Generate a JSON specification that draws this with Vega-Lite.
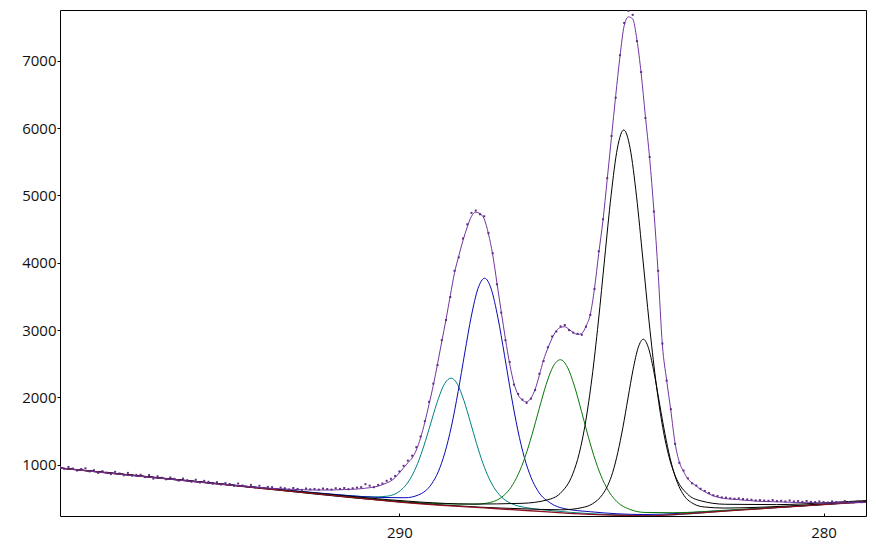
{
"$schema":"https://vega.github.io/schema/vega-lite/v6.json",
"width":806,"height":506,
"autosize":{"type":"none"},
"padding":{"left":60,"top":10,"right":10,"bottom":34},
"background":"white",
"config":{"view":{"stroke":"#000","strokeWidth":1},"axis":{"grid":false,"domain":false,"labelFont":"Open Sans","labelFontSize":15,"labelColor":"#111","tickColor":"#000","title":null}},
"datasets":{
"comp":[
{"s":"teal","x":298,"y":952},{"s":"teal","x":294,"y":702},{"s":"teal","x":292,"y":584},{"s":"teal","x":291.18,"y":541},{"s":"teal","x":290.58,"y":523},{"s":"teal","x":290.28,"y":535},{"s":"teal","x":289.98,"y":615},{"s":"teal","x":289.83,"y":712},{"s":"teal","x":289.68,"y":865},{"s":"teal","x":289.53,"y":1084},{"s":"teal","x":289.38,"y":1365},{"s":"teal","x":289.23,"y":1680},{"s":"teal","x":289.08,"y":1984},{"s":"teal","x":288.93,"y":2208},{"s":"teal","x":288.78,"y":2287},{"s":"teal","x":288.63,"y":2194},{"s":"teal","x":288.48,"y":1957},{"s":"teal","x":288.33,"y":1642},{"s":"teal","x":288.18,"y":1314},{"s":"teal","x":288.03,"y":1022},{"s":"teal","x":287.88,"y":791},{"s":"teal","x":287.73,"y":625},{"s":"teal","x":287.58,"y":514},{"s":"teal","x":287.28,"y":404},{"s":"teal","x":286.98,"y":362},{"s":"teal","x":286.38,"y":317},{"s":"teal","x":285.5,"y":275},{"s":"teal","x":284,"y":249},{"s":"teal","x":282,"y":329},{"s":"teal","x":279,"y":452},
{"s":"blue","x":298,"y":953},{"s":"blue","x":294,"y":704},{"s":"blue","x":292,"y":587},{"s":"blue","x":291.74,"y":573},{"s":"blue","x":290.49,"y":516},{"s":"blue","x":289.865,"y":511},{"s":"blue","x":289.553,"y":552},{"s":"blue","x":289.24,"y":716},{"s":"blue","x":289.084,"y":896},{"s":"blue","x":288.928,"y":1178},{"s":"blue","x":288.771,"y":1577},{"s":"blue","x":288.615,"y":2086},{"s":"blue","x":288.459,"y":2659},{"s":"blue","x":288.303,"y":3209},{"s":"blue","x":288.146,"y":3618},{"s":"blue","x":287.99,"y":3770},{"s":"blue","x":287.834,"y":3608},{"s":"blue","x":287.678,"y":3188},{"s":"blue","x":287.521,"y":2625},{"s":"blue","x":287.365,"y":2040},{"s":"blue","x":287.209,"y":1519},{"s":"blue","x":287.053,"y":1107},{"s":"blue","x":286.896,"y":812},{"s":"blue","x":286.74,"y":618},{"s":"blue","x":286.428,"y":428},{"s":"blue","x":286.115,"y":350},{"s":"blue","x":285.49,"y":303},{"s":"blue","x":284.24,"y":262},{"s":"blue","x":282.5,"y":314},{"s":"blue","x":279,"y":453},
{"s":"green","x":298,"y":952},{"s":"green","x":294,"y":700},{"s":"green","x":291,"y":517},{"s":"green","x":290.195,"y":469},{"s":"green","x":288.865,"y":420},{"s":"green","x":288.2,"y":416},{"s":"green","x":287.868,"y":440},{"s":"green","x":287.535,"y":546},{"s":"green","x":287.369,"y":665},{"s":"green","x":287.203,"y":852},{"s":"green","x":287.036,"y":1117},{"s":"green","x":286.87,"y":1454},{"s":"green","x":286.704,"y":1833},{"s":"green","x":286.538,"y":2196},{"s":"green","x":286.371,"y":2465},{"s":"green","x":286.205,"y":2560},{"s":"green","x":286.039,"y":2450},{"s":"green","x":285.873,"y":2168},{"s":"green","x":285.706,"y":1792},{"s":"green","x":285.54,"y":1402},{"s":"green","x":285.374,"y":1054},{"s":"green","x":285.208,"y":780},{"s":"green","x":285.041,"y":583},{"s":"green","x":284.875,"y":455},{"s":"green","x":284.543,"y":333},{"s":"green","x":284.21,"y":293},{"s":"green","x":283.545,"y":289},{"s":"green","x":282.215,"y":329},{"s":"green","x":279,"y":454},
{"s":"k1","x":298,"y":954},{"s":"k1","x":294,"y":704},{"s":"k1","x":291,"y":523},{"s":"k1","x":289.51,"y":447},{"s":"k1","x":288.31,"y":417},{"s":"k1","x":287.11,"y":428},{"s":"k1","x":286.51,"y":480},{"s":"k1","x":286.21,"y":575},{"s":"k1","x":285.91,"y":868},{"s":"k1","x":285.76,"y":1170},{"s":"k1","x":285.61,"y":1638},{"s":"k1","x":285.46,"y":2289},{"s":"k1","x":285.31,"y":3121},{"s":"k1","x":285.16,"y":4068},{"s":"k1","x":285.01,"y":4995},{"s":"k1","x":284.86,"y":5702},{"s":"k1","x":284.71,"y":5971},{"s":"k1","x":284.56,"y":5698},{"s":"k1","x":284.41,"y":4988},{"s":"k1","x":284.26,"y":4056},{"s":"k1","x":284.11,"y":3105},{"s":"k1","x":283.96,"y":2272},{"s":"k1","x":283.81,"y":1622},{"s":"k1","x":283.66,"y":1159},{"s":"k1","x":283.51,"y":857},{"s":"k1","x":283.21,"y":566},{"s":"k1","x":282.91,"y":468},{"s":"k1","x":282.31,"y":414},{"s":"k1","x":281.11,"y":409},{"s":"k1","x":279.91,"y":438},{"s":"k1","x":279,"y":469},
{"s":"k2","x":298,"y":951},{"s":"k2","x":294,"y":699},{"s":"k2","x":290,"y":450},{"s":"k2","x":288.09,"y":371},{"s":"k2","x":287.13,"y":348},{"s":"k2","x":286.17,"y":332},{"s":"k2","x":285.69,"y":365},{"s":"k2","x":285.45,"y":420},{"s":"k2","x":285.21,"y":560},{"s":"k2","x":285.09,"y":690},{"s":"k2","x":284.97,"y":890},{"s":"k2","x":284.85,"y":1185},{"s":"k2","x":284.73,"y":1558},{"s":"k2","x":284.61,"y":1992},{"s":"k2","x":284.49,"y":2416},{"s":"k2","x":284.37,"y":2740},{"s":"k2","x":284.25,"y":2864},{"s":"k2","x":284.13,"y":2739},{"s":"k2","x":284.01,"y":2414},{"s":"k2","x":283.89,"y":1993},{"s":"k2","x":283.77,"y":1563},{"s":"k2","x":283.65,"y":1186},{"s":"k2","x":283.53,"y":890},{"s":"k2","x":283.41,"y":681},{"s":"k2","x":283.29,"y":545},{"s":"k2","x":283.05,"y":416},{"s":"k2","x":282.81,"y":374},{"s":"k2","x":282.33,"y":358},{"s":"k2","x":281.37,"y":373},{"s":"k2","x":280.41,"y":404},{"s":"k2","x":279,"y":456}
],
"bg":[
{"x":298,"y":950},{"x":296,"y":824},{"x":294,"y":697},{"x":292,"y":571},{"x":290,"y":445},{"x":289.5,"y":420},{"x":289,"y":398},{"x":288.5,"y":378},{"x":288,"y":360},{"x":287.5,"y":340},{"x":287,"y":322},{"x":286.5,"y":300},{"x":286,"y":280},{"x":285.5,"y":263},{"x":285,"y":252},{"x":284.5,"y":246},{"x":284,"y":243},{"x":283,"y":284},{"x":282,"y":326},{"x":281,"y":367},{"x":280,"y":408},{"x":279,"y":450}
],
"env":[
{"x":298,"f":952,"r":965},{"x":297.9,"f":945,"r":940},{"x":297.8,"f":939,"r":968},{"x":297.7,"f":932,"r":945},{"x":297.6,"f":925,"r":915},{"x":297.5,"f":919,"r":938},{"x":297.4,"f":912,"r":948},{"x":297.3,"f":905,"r":902},{"x":297.2,"f":898,"r":920},{"x":297.1,"f":892,"r":880},
{"x":297,"f":885,"r":905},{"x":296.9,"f":879,"r":885},{"x":296.8,"f":873,"r":862},{"x":296.7,"f":866,"r":895},{"x":296.6,"f":860,"r":872},{"x":296.5,"f":854,"r":845},{"x":296.4,"f":847,"r":880},{"x":296.3,"f":841,"r":838},{"x":296.2,"f":835,"r":850},{"x":296.1,"f":828,"r":852},
{"x":296,"f":822,"r":818},{"x":295.9,"f":816,"r":848},{"x":295.8,"f":810,"r":795},{"x":295.7,"f":803,"r":830},{"x":295.6,"f":797,"r":808},{"x":295.5,"f":791,"r":785},{"x":295.4,"f":785,"r":812},{"x":295.3,"f":779,"r":792},{"x":295.2,"f":772,"r":765},{"x":295.1,"f":766,"r":795},
{"x":295,"f":760,"r":772},{"x":294.9,"f":754,"r":748},{"x":294.8,"f":748,"r":778},{"x":294.7,"f":742,"r":738},{"x":294.6,"f":736,"r":762},{"x":294.5,"f":730,"r":748},{"x":294.4,"f":724,"r":718},{"x":294.3,"f":718,"r":742},{"x":294.2,"f":712,"r":708},{"x":294.1,"f":706,"r":728},
{"x":294,"f":700,"r":715},{"x":293.9,"f":695,"r":688},{"x":293.8,"f":690,"r":722},{"x":293.7,"f":684,"r":692},{"x":293.6,"f":678,"r":675},{"x":293.5,"f":672,"r":702},{"x":293.4,"f":668,"r":662},{"x":293.3,"f":663,"r":688},{"x":293.2,"f":659,"r":652},{"x":293.1,"f":654,"r":672},
{"x":293,"f":650,"r":668},{"x":292.9,"f":647,"r":642},{"x":292.8,"f":644,"r":662},{"x":292.7,"f":641,"r":652},{"x":292.6,"f":638,"r":632},{"x":292.5,"f":635,"r":656},{"x":292.4,"f":633,"r":642},{"x":292.3,"f":631,"r":628},{"x":292.2,"f":629,"r":648},{"x":292.1,"f":627,"r":636},
{"x":292,"f":625,"r":642},{"x":291.9,"f":625,"r":632},{"x":291.8,"f":626,"r":648},{"x":291.7,"f":626,"r":640},{"x":291.6,"f":627,"r":632},{"x":291.5,"f":628,"r":652},{"x":291.4,"f":630,"r":642},{"x":291.3,"f":632,"r":656},{"x":291.2,"f":635,"r":638},{"x":291.1,"f":637,"r":652},
{"x":291,"f":640,"r":662},{"x":290.9,"f":646,"r":668},{"x":290.8,"f":653,"r":712},{"x":290.7,"f":660,"r":690},{"x":290.6,"f":670,"r":668},{"x":290.5,"f":683,"r":702},{"x":290.4,"f":705,"r":722},{"x":290.3,"f":730,"r":762},{"x":290.2,"f":760,"r":792},{"x":290.1,"f":810,"r":835},
{"x":290,"f":880,"r":902},{"x":289.9,"f":955,"r":985},{"x":289.8,"f":1030,"r":1062},{"x":289.7,"f":1100,"r":1135},{"x":289.6,"f":1220,"r":1262},{"x":289.5,"f":1400,"r":1420},{"x":289.4,"f":1630,"r":1648},{"x":289.3,"f":1900,"r":1935},{"x":289.2,"f":2180,"r":2205},{"x":289.1,"f":2500,"r":2480},
{"x":289,"f":2830,"r":2850},{"x":288.9,"f":3160,"r":3150},{"x":288.8,"f":3510,"r":3490},{"x":288.7,"f":3850,"r":3880},{"x":288.6,"f":4100,"r":4080},{"x":288.5,"f":4330,"r":4360},{"x":288.4,"f":4530,"r":4570},{"x":288.3,"f":4690,"r":4740},{"x":288.2,"f":4750,"r":4775},{"x":288.1,"f":4730,"r":4720},
{"x":288,"f":4650,"r":4690},{"x":287.9,"f":4430,"r":4440},{"x":287.8,"f":4120,"r":4140},{"x":287.7,"f":3700,"r":3680},{"x":287.6,"f":3280,"r":3260},{"x":287.5,"f":2870,"r":2850},{"x":287.4,"f":2500,"r":2525},{"x":287.3,"f":2210,"r":2190},{"x":287.2,"f":2040,"r":2052},{"x":287.1,"f":1960,"r":1968},
{"x":287,"f":1935,"r":1920},{"x":286.9,"f":1990,"r":1982},{"x":286.8,"f":2120,"r":2110},{"x":286.7,"f":2330,"r":2350},{"x":286.6,"f":2560,"r":2540},{"x":286.5,"f":2730,"r":2745},{"x":286.4,"f":2880,"r":2905},{"x":286.3,"f":2990,"r":2980},{"x":286.2,"f":3040,"r":3055},{"x":286.1,"f":3050,"r":3075},
{"x":286,"f":3010,"r":3000},{"x":285.9,"f":2965,"r":2962},{"x":285.8,"f":2935,"r":2945},{"x":285.7,"f":2950,"r":2930},{"x":285.6,"f":3060,"r":3050},{"x":285.5,"f":3230,"r":3225},{"x":285.4,"f":3620,"r":3610},{"x":285.3,"f":4140,"r":4170},{"x":285.2,"f":4630,"r":4645},{"x":285.1,"f":5240,"r":5255},
{"x":285,"f":5860,"r":5880},{"x":284.9,"f":6480,"r":6450},{"x":284.8,"f":7060,"r":7080},{"x":284.7,"f":7520,"r":7560},{"x":284.6,"f":7650,"r":7740},{"x":284.5,"f":7620,"r":7680},{"x":284.4,"f":7310,"r":7290},{"x":284.3,"f":6810,"r":6830},{"x":284.2,"f":6170,"r":6150},{"x":284.1,"f":5550,"r":5570},
{"x":284,"f":4770,"r":4760},{"x":283.9,"f":3850,"r":3880},{"x":283.8,"f":2780,"r":2800},{"x":283.7,"f":2260,"r":2250},{"x":283.6,"f":1800,"r":1825},{"x":283.5,"f":1320,"r":1310},{"x":283.4,"f":1040,"r":1030},{"x":283.3,"f":900,"r":915},{"x":283.2,"f":790,"r":800},{"x":283.1,"f":730,"r":725},
{"x":283,"f":685,"r":692},{"x":282.9,"f":635,"r":645},{"x":282.8,"f":600,"r":612},{"x":282.7,"f":565,"r":582},{"x":282.6,"f":540,"r":548},{"x":282.5,"f":520,"r":536},{"x":282.4,"f":507,"r":516},{"x":282.3,"f":497,"r":512},{"x":282.2,"f":492,"r":502},{"x":282.1,"f":487,"r":496},
{"x":282,"f":483,"r":502},{"x":281.9,"f":475,"r":492},{"x":281.8,"f":471,"r":486},{"x":281.7,"f":467,"r":482},{"x":281.6,"f":462,"r":472},{"x":281.5,"f":458,"r":476},{"x":281.4,"f":456,"r":470},{"x":281.3,"f":454,"r":466},{"x":281.2,"f":452,"r":476},{"x":281.1,"f":450,"r":462},
{"x":281,"f":448,"r":466},{"x":280.9,"f":446,"r":456},{"x":280.8,"f":444,"r":470},{"x":280.7,"f":442,"r":456},{"x":280.6,"f":441,"r":462},{"x":280.5,"f":439,"r":450},{"x":280.4,"f":438,"r":462},{"x":280.3,"f":437,"r":450},{"x":280.2,"f":436,"r":446},{"x":280.1,"f":434,"r":456},
{"x":280,"f":433,"r":446},{"x":279.9,"f":433,"r":440},{"x":279.8,"f":434,"r":456},{"x":279.7,"f":434,"r":446},{"x":279.6,"f":435,"r":440},{"x":279.5,"f":436,"r":462},{"x":279.4,"f":437,"r":446},{"x":279.3,"f":438,"r":440},{"x":279.2,"f":438,"r":456},{"x":279.1,"f":439,"r":446},{"x":279,"f":440,"r":452}
]
},
"encoding":{
"x":{"field":"x","type":"quantitative","scale":{"domain":[279,298],"reverse":true,"nice":false,"zero":false},"axis":{"values":[290,280],"format":"d","tickSize":-3,"labelPadding":12}}
},
"layer":[
{"data":{"name":"comp"},"mark":{"type":"line","strokeWidth":1,"interpolate":"monotone","clip":true},
"encoding":{"y":{"field":"y","type":"quantitative","scale":{"domain":[240,7752],"nice":false,"zero":false},"axis":{"values":[1000,2000,3000,4000,5000,6000,7000],"format":"d","tickSize":3,"labelPadding":1}},
"color":{"field":"s","type":"nominal","legend":null,"scale":{"domain":["teal","blue","green","k1","k2"],"range":["#008080","#0a0ab4","#087808","#000000","#000000"]}}}},
{"data":{"name":"bg"},"mark":{"type":"line","strokeWidth":1.3,"color":"#8b1020","clip":true},
"encoding":{"y":{"field":"y","type":"quantitative"}}},
{"data":{"name":"env"},"mark":{"type":"line","strokeWidth":1,"color":"#7236a0","interpolate":"monotone","clip":true},
"encoding":{"y":{"field":"f","type":"quantitative"}}},
{"data":{"name":"env"},"mark":{"type":"point","shape":"square","filled":true,"size":4,"opacity":1,"color":"#5e2c86","clip":true},
"encoding":{"y":{"field":"r","type":"quantitative"}}}
]
}
